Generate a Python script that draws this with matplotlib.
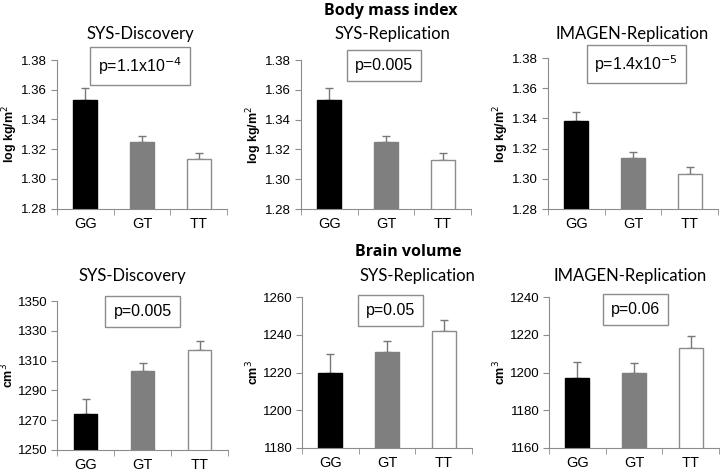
import matplotlib
matplotlib.use("Agg")
import matplotlib.pyplot as plt
import numpy as np

# --- DATA ---
genotypes = ["GG", "GT", "TT"]

bmi_sys_disc = [1.353, 1.325, 1.313]
bmi_sys_disc_err = [0.008, 0.004, 0.0045]
bmi_sys_rep = [1.353, 1.325, 1.313]
bmi_sys_rep_err = [0.008, 0.004, 0.0045]
bmi_imagen = [1.338, 1.314, 1.303]
bmi_imagen_err = [0.006, 0.0035, 0.0045]

bv_sys_disc = [1274, 1303, 1317]
bv_sys_disc_err = [10.5, 5.5, 6]
bv_sys_rep = [1220, 1231, 1242]
bv_sys_rep_err = [10, 5.5, 6]
bv_imagen = [1197, 1200, 1213]
bv_imagen_err = [8.5, 5, 6.5]

bmi_ticks = [1.28, 1.30, 1.32, 1.34, 1.36, 1.38]
bv_ticks_disc = [1250, 1270, 1290, 1310, 1330, 1350]
bv_ticks_rep = [1180, 1200, 1220, 1240, 1260]
bv_ticks_imagen = [1160, 1180, 1200, 1220, 1240]

# --- STYLE ---
W, H = 720, 474
TICK_FONT = "Liberation Sans"
TITLE_FONT = "Lato"
HEAD_FONT = "Open Sans"
GRAY = "#8c8c8c"
bar_faces = ["#000000", "#7f7f7f", "#ffffff"]
bar_edges = ["#000000", "#7f7f7f", "#8c8c8c"]

fig = plt.figure(figsize=(W / 100, H / 100), dpi=100)


def px_axes(x0, x1, y0, y1):
    # pixel box (top-left origin) -> figure fraction axes
    return fig.add_axes([x0 / W, 1 - y1 / H, (x1 - x0) / W, (y1 - y0) / H])


def panel(box, vals, errs, ticks, ylabel, ptext, pxy, fmt):
    ax = px_axes(*box)
    x = np.arange(len(genotypes))
    ax.bar(x, vals, width=0.42, color=bar_faces, edgecolor=bar_edges,
           linewidth=1.0, zorder=2)
    ax.errorbar(x, vals, yerr=[np.zeros(3), errs], fmt="none",
                ecolor="#777777", elinewidth=1.0, capsize=3, capthick=1.0,
                zorder=1)
    ax.set_xlim(-0.5, 2.5)
    ax.set_ylim(ticks[0], ticks[-1])
    ax.set_yticks(ticks)
    ax.set_yticklabels([fmt.format(t) for t in ticks],
                       fontfamily=TICK_FONT, fontsize=9.5)
    ax.set_xticks(x)
    ax.set_xticklabels(genotypes, fontfamily=TICK_FONT, fontsize=10.5)
    ax.set_xticks([-0.5, 0.5, 1.5, 2.5], minor=True)
    ax.tick_params(axis="x", which="major", length=0, pad=6)
    ax.tick_params(axis="x", which="minor", length=4, color=GRAY, direction="out")
    ax.tick_params(axis="y", length=4, color=GRAY, pad=3)
    for s in ["top", "right"]:
        ax.spines[s].set_visible(False)
    for s in ["left", "bottom"]:
        ax.spines[s].set_color(GRAY)
    ax.set_ylabel(ylabel, fontfamily=TICK_FONT, fontweight="bold",
                  fontsize=9, labelpad=1)
    ax.text(pxy[0], pxy[1], ptext, transform=ax.transAxes, ha="center",
            va="center", fontfamily=TICK_FONT, fontsize=11.5,
            bbox=dict(boxstyle="square,pad=0.5", facecolor="white",
                      edgecolor=GRAY, linewidth=1.0), zorder=5)
    return ax


bmi_lab = "log kg/m$^2$"
bv_lab = "cm$^3$"

panel((57, 227, 60, 208.5), bmi_sys_disc, bmi_sys_disc_err, bmi_ticks, bmi_lab,
      r"p=1.1x10$^{-4}$", (0.49, 0.96), "{:.2f}")
panel((301, 471, 60, 209), bmi_sys_rep, bmi_sys_rep_err, bmi_ticks, bmi_lab,
      "p=0.005", (0.49, 0.96), "{:.2f}")
panel((548, 718, 58, 209), bmi_imagen, bmi_imagen_err, bmi_ticks, bmi_lab,
      r"p=1.4x10$^{-5}$", (0.52, 0.96), "{:.2f}")

panel((57, 228, 301, 450), bv_sys_disc, bv_sys_disc_err, bv_ticks_disc, bv_lab,
      "p=0.005", (0.50, 0.93), "{:d}")
panel((302, 472, 297, 448), bv_sys_rep, bv_sys_rep_err, bv_ticks_rep, bv_lab,
      "p=0.05", (0.52, 0.91), "{:d}")
panel((549, 719, 297, 448), bv_imagen, bv_imagen_err, bv_ticks_imagen, bv_lab,
      "p=0.06", (0.51, 0.92), "{:d}")

# headings
def ftext(x, y, s, family=TITLE_FONT, **kw):
    fig.text(x / W, 1 - y / H, s, ha="center", va="center",
             fontfamily=family, **kw)

ftext(391, 11, "Body mass index", family=HEAD_FONT, fontsize=11.5, fontweight="bold")
ftext(408, 252, "Brain volume", family=HEAD_FONT, fontsize=11.5, fontweight="bold")

ftext(140, 34, "SYS-Discovery", fontsize=12)
ftext(392, 34, "SYS-Replication", fontsize=12)
ftext(632, 34, "IMAGEN-Replication", fontsize=12)
ftext(132, 276, "SYS-Discovery", fontsize=12)
ftext(417, 276, "SYS-Replication", fontsize=12)
ftext(630, 276, "IMAGEN-Replication", fontsize=12)

fig.savefig("out.png", dpi=100)
